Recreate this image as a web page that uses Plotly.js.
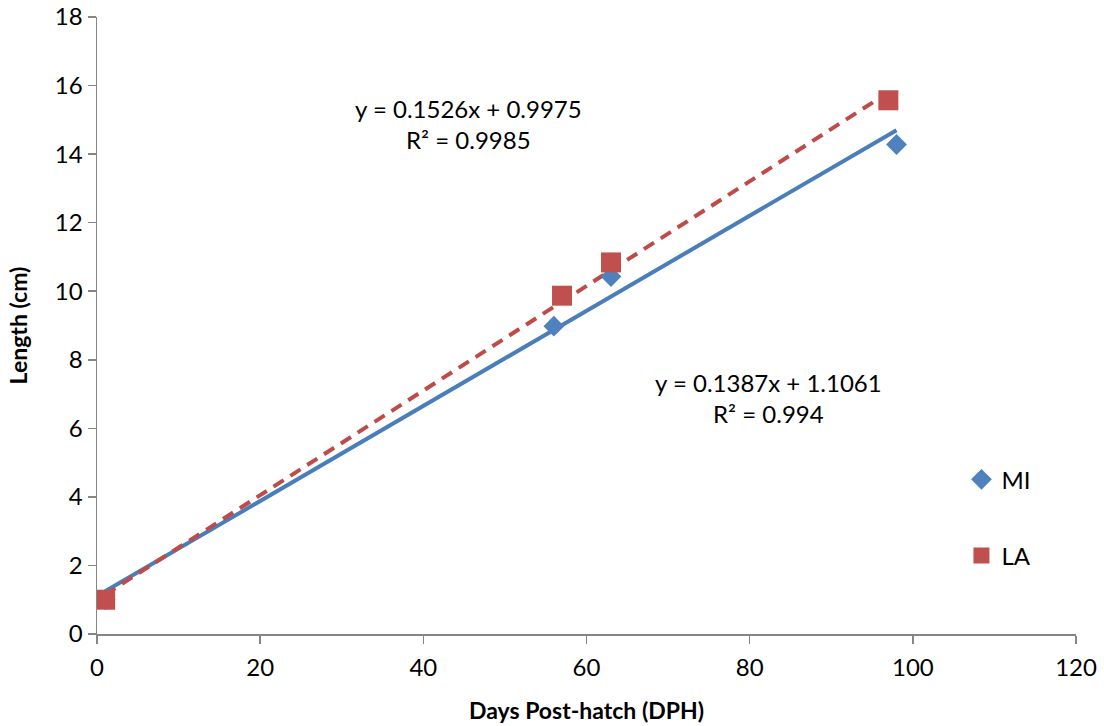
<!DOCTYPE html>
<html>
<head>
<meta charset="utf-8">
<script src="https://cdn.plot.ly/plotly-3.0.1.min.js"></script>
<style>html,body{margin:0;padding:0;background:#fff;}#chart{width:1104px;height:726px;}</style>
</head>
<body>
<div id="chart"></div>
<script>
// Data
const miDays = [1, 56, 63, 98];
const miLength = [1.0, 8.98, 10.43, 14.28];
const laDays = [1, 57, 63, 97];
const laLength = [1.0, 9.87, 10.84, 15.57];
// Trend line coefficients as printed on the chart
const miTrend = {slope: 0.1387, intercept: 1.1061, r2: '0.994'};
const laTrend = {slope: 0.1526, intercept: 0.9975, r2: '0.9985'};
const xTicks = [0, 20, 40, 60, 80, 100, 120];
const yTicks = [0, 2, 4, 6, 8, 10, 12, 14, 16, 18];

const FONT = 'Lato, "Open Sans", sans-serif';
const BLUE = '#4F81BD', RED = '#C0504D';

function trendXY(xs, t) {
  const x0 = Math.min(...xs), x1 = Math.max(...xs);
  return {x: [x0, x1], y: [t.slope * x0 + t.intercept, t.slope * x1 + t.intercept]};
}
const miLine = trendXY(miDays, miTrend);
const laLine = trendXY(laDays, laTrend);

const traces = [
  {x: miLine.x, y: miLine.y, mode: 'lines', showlegend: false, hoverinfo: 'skip',
   line: {color: '#4A7EBB', width: 4}},
  {x: laLine.x, y: laLine.y, mode: 'lines', showlegend: false, hoverinfo: 'skip',
   line: {color: '#BE4B48', width: 4, dash: '12px,8px'}},
  {x: miDays, y: miLength, mode: 'markers', name: 'MI', legendgroup: 'mi',
   marker: {symbol: 'diamond', size: 16, color: BLUE}},
  {x: laDays, y: laLength, mode: 'markers', name: 'LA', legendgroup: 'la',
   marker: {symbol: 'square', size: 20, color: RED}}
];

function eq(t) {
  return 'y = ' + t.slope + 'x + ' + t.intercept + '<br>R² = ' + t.r2;
}

const layout = {
  width: 1104, height: 726,
  margin: {l: 97, r: 28, t: 17, b: 92},
  paper_bgcolor: '#fff', plot_bgcolor: '#fff',
  font: {family: FONT, size: 24, color: '#000'},
  xaxis: {
    range: [0, 120], tickvals: xTicks, ticktext: xTicks.map(String),
    showgrid: false, zeroline: false, showline: true, linecolor: '#868686', linewidth: 1.5,
    ticks: 'outside', ticklen: 8, tickcolor: '#868686', tickwidth: 1.5,
    tickfont: {family: FONT, size: 24}, ticklabelstandoff: 4,
    title: {text: '<b>Days Post-hatch (DPH)</b>', font: {family: FONT, size: 23}, standoff: 22}
  },
  yaxis: {
    range: [0, 18], tickvals: yTicks, ticktext: yTicks.map(String),
    showgrid: false, zeroline: false, showline: true, linecolor: '#868686', linewidth: 1.5,
    ticks: 'outside', ticklen: 8, tickcolor: '#868686', tickwidth: 1.5,
    tickfont: {family: FONT, size: 24},
    title: {text: '<b>Length (cm)</b>', font: {family: FONT, size: 23}, standoff: 21}
  },
  legend: {
    x: 0.883, y: 0.2865, xanchor: 'left', yanchor: 'top',
    font: {family: FONT, size: 24}, tracegroupgap: 42, traceorder: 'grouped',
    bgcolor: 'rgba(0,0,0,0)', itemwidth: 30
  },
  annotations: [
    {xref: 'paper', yref: 'paper', x: (468 - 97) / 978.7, y: (634 - 124) / 617,
     xanchor: 'center', yanchor: 'middle',
     text: eq(laTrend), showarrow: false, align: 'center', font: {family: FONT, size: 24}},
    {xref: 'paper', yref: 'paper', x: (768 - 97) / 978.7, y: (634 - 398) / 617,
     xanchor: 'center', yanchor: 'middle',
     text: eq(miTrend), showarrow: false, align: 'center', font: {family: FONT, size: 24}}
  ],
  showlegend: true
};

Plotly.newPlot('chart', traces, layout, {staticPlot: true, displayModeBar: false});
</script>
</body>
</html>
